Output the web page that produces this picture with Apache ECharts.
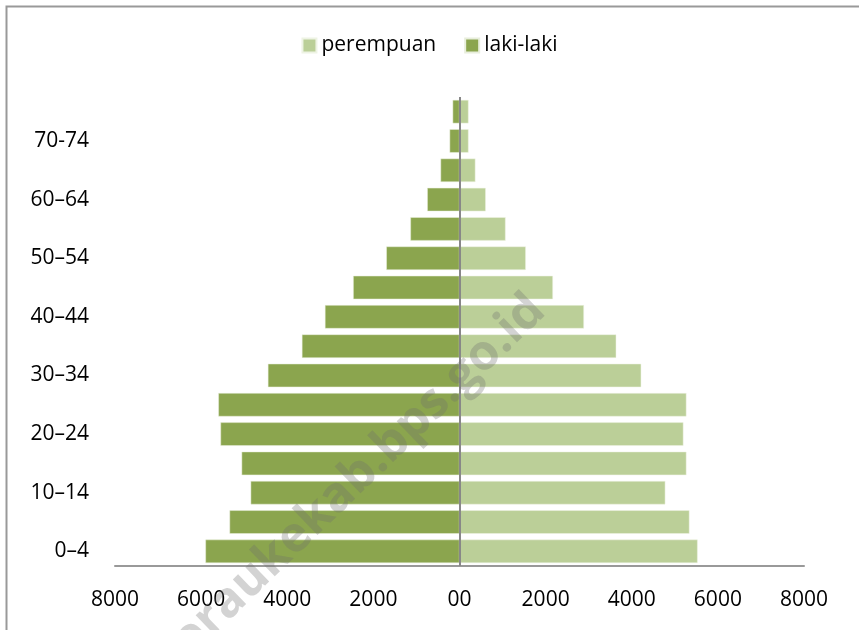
<!DOCTYPE html>
<html>
<head>
<meta charset="utf-8">
<script src="https://cdn.jsdelivr.net/npm/echarts@6/dist/echarts.min.js"></script>
<style>
  html, body { margin: 0; padding: 0; background: #fff; }
  #main { width: 859px; height: 630px; }
</style>
</head>
<body>
<div id="main"></div>
<script>
var ageGroups = ['0–4', '5–9', '10–14', '15–19', '20–24', '25–29', '30–34', '35–39',
  '40–44', '45–49', '50–54', '55–59', '60–64', '65–69', '70-74', '75+'];
var lakiLaki = [5900, 5340, 4850, 5060, 5550, 5600, 4450, 3660,
  3125, 2470, 1700, 1140, 750, 440, 230, 160];
var perempuan = [5530, 5340, 4780, 5270, 5200, 5270, 4220, 3640,
  2890, 2170, 1540, 1070, 610, 370, 210, 210];

var chartDom = document.getElementById('main');
var myChart = echarts.init(chartDom);
var font = '"Open Sans", sans-serif';

var option = {
  animation: false,
  textStyle: { fontFamily: font },
  legend: {
    top: 30,
    left: 'center',
    itemWidth: 14,
    itemHeight: 14,
    itemGap: 28,
    icon: 'rect',
    data: ['perempuan', 'laki-laki'],
    textStyle: { fontFamily: font, fontSize: 21, color: '#000' }
  },
  grid: { left: 115, right: 55, top: 97, bottom: 64 },
  xAxis: {
    type: 'value',
    min: -8000,
    max: 8000,
    interval: 2000,
    splitLine: { show: false },
    axisTick: { show: false },
    axisLine: { show: true, lineStyle: { color: '#999', width: 2 } },
    axisLabel: {
      margin: 24,
      fontSize: 21,
      color: '#000',
      fontFamily: font,
      formatter: function (v) { return v === 0 ? '00' : String(Math.abs(v)); }
    }
  },
  yAxis: {
    type: 'category',
    data: ageGroups,
    axisLine: { show: false },
    axisTick: { show: false },
    axisLabel: { interval: 1, margin: 26, fontSize: 21, color: '#000', fontFamily: font }
  },
  series: [
    {
      name: 'laki-laki',
      type: 'bar',
      data: lakiLaki.map(function (v) { return -v; }),
      barCategoryGap: '20%',
      barGap: '-100%',
      itemStyle: { color: '#8BA54E', borderColor: '#e8eedc', borderWidth: 0.5 },
      markLine: {
        silent: true,
        symbol: 'none',
        label: { show: false },
        lineStyle: { color: '#888', width: 2, type: 'solid' },
        data: [{ xAxis: 0 }]
      }
    },
    {
      name: 'perempuan',
      type: 'bar',
      data: perempuan,
      barCategoryGap: '20%',
      barGap: '-100%',
      itemStyle: { color: '#BBCF98', borderColor: '#eef3e4', borderWidth: 0.5 }
    }
  ],
  graphic: [
    {
      type: 'rect',
      left: 4,
      top: 4,
      shape: { width: 900, height: 700 },
      style: { fill: 'none', stroke: '#999', lineWidth: 2 },
      silent: true
    },
    {
      type: 'text',
      x: 342,
      y: 492,
      rotation: Math.PI * 44 / 180,
      z: 100,
      style: {
        text: 'meraukekab.bps.go.id',
        font: 'bold 49px "Open Sans", sans-serif',
        fill: 'rgba(110,110,110,0.3)',
        textAlign: 'center',
        textVerticalAlign: 'middle'
      },
      silent: true
    }
  ]
};

myChart.setOption(option);
</script>
</body>
</html>
